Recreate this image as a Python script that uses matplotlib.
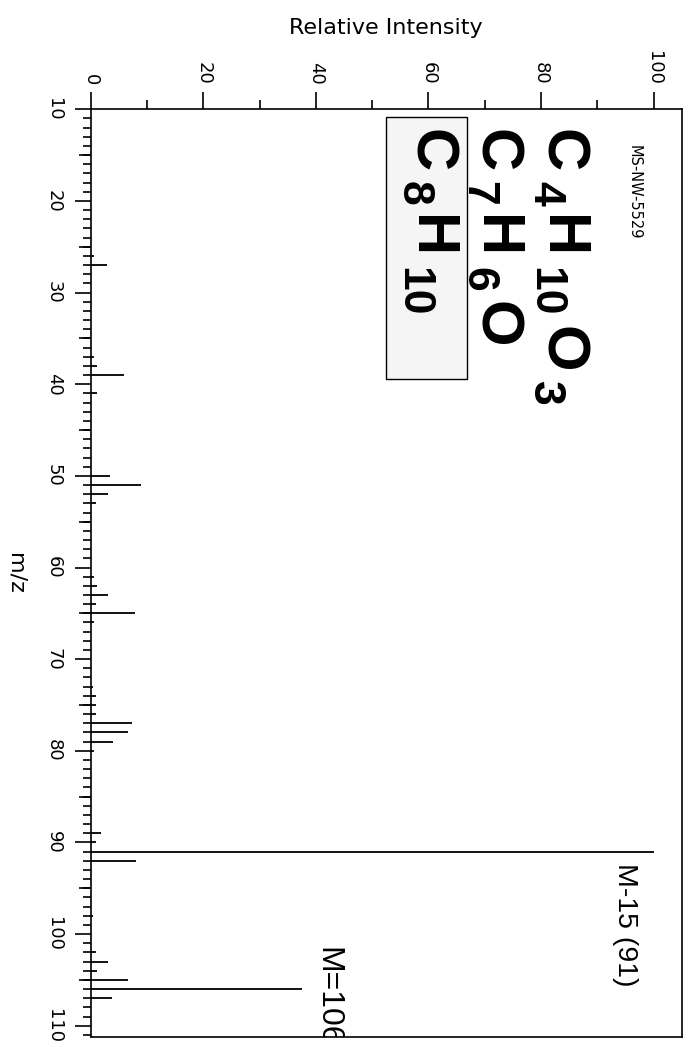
import re
import matplotlib
matplotlib.use("Agg")
import matplotlib.pyplot as plt
from matplotlib.ticker import MultipleLocator
from matplotlib.patches import Rectangle
from matplotlib.transforms import IdentityTransform

# ---- data ----
mz = [26, 27, 37, 38, 39, 41, 50, 51, 52, 53, 61, 62, 63, 64, 65, 66,
      73, 74, 75, 76, 77, 78, 79, 80, 89, 90, 91, 92, 98, 102, 103, 104,
      105, 106, 107]
intensity = [0.6, 2.9, 0.6, 1.2, 5.9, 1.2, 3.4, 8.9, 3.1, 0.9, 0.6, 1.2, 3.1, 0.9, 7.9, 0.6,
             0.4, 1.0, 0.9, 0.9, 7.3, 6.7, 3.9, 0.5, 1.8, 0.9, 100.0, 8.0, 0.4, 0.9, 3.1, 1.2,
             6.7, 37.5, 3.7]
mz_ticks = [10, 20, 30, 40, 50, 60, 70, 80, 90, 100, 110]
mz_mid_ticks = [15, 25, 35, 45, 55, 65, 75, 85, 95, 105]
int_ticks = [0, 20, 40, 60, 80, 100]
formulas = ["C4H10O3", "C7H6O", "C8H10"]
sample_id = "MS-NW-5529"
base_label = "M-15 (91)"
mol_label = "M=106"

plt.rcParams["font.family"] = ["DejaVu Sans"]

W, H = 692, 1047
fig = plt.figure(figsize=(W / 100, H / 100), dpi=100)
L, R, T, B = 90.7, 681.7, 109.3, 1036.7
ax = fig.add_axes([L / W, 1 - B / H, (R - L) / W, (B - T) / H])
ax.set_xlim(0, 105)
ax.set_ylim(111.2, 10)

ax.hlines(mz, 0, intensity, color="black", lw=1.3, zorder=3)

for s in ax.spines.values():
    s.set_linewidth(1.2)

# intensity axis on top
ax.xaxis.set_ticks_position("top")
ax.xaxis.set_label_position("top")
ax.set_xticks(int_ticks)
ax.xaxis.set_minor_locator(MultipleLocator(10))
ax.tick_params(axis="x", which="major", length=12, width=1.2, pad=5.5,
               labelsize=13, labelrotation=-90)
ax.tick_params(axis="x", which="minor", length=6.2, width=1.2)

# m/z axis on left
ax.set_yticks(mz_ticks)
ax.yaxis.set_minor_locator(MultipleLocator(1))
ax.tick_params(axis="y", which="major", length=11.5, width=1.2, pad=8.6,
               labelsize=13, labelrotation=-90)
ax.tick_params(axis="y", which="minor", length=5.8, width=1.2)
for lab in ax.get_yticklabels():
    lab.set_va("center")

sec = ax.secondary_yaxis("left")
sec.set_yticks(mz_mid_ticks)
sec.tick_params(axis="y", which="major", length=8.6, width=1.2, labelleft=False)
sec.spines["left"].set_visible(False)

fig.text(386 / W, 1 - 28 / H, "Relative Intensity", ha="center", va="center", fontsize=16)
fig.text(15 / W, 1 - 573 / H, "m/z", rotation=-90, ha="center", va="center", fontsize=16)

# formula annotations (rotated, laid out piece by piece)
ax.add_patch(Rectangle((52.5, 10.85), 14.3, 28.55, facecolor="#f5f5f5",
                       edgecolor="black", lw=1.0, zorder=1))
renderer = fig.canvas.get_renderer()


def draw_formula(formula, x_data, y_data, size=43, sub_size=32, drop=12.5, gap=9):
    x0, y0 = ax.transData.transform((x_data, y_data))
    y = y0
    for elem, num in re.findall(r"([A-Z][a-z]?)(\d*)", formula):
        for s, sub in ((elem, False), (num, True)):
            if not s:
                continue
            t = fig.text(x0 - (drop if sub else 0), y, s, transform=IdentityTransform(),
                         rotation=-90, rotation_mode="anchor", ha="left", va="baseline",
                         fontsize=sub_size if sub else size, fontweight="bold",
                         family="Liberation Sans", zorder=4)
            bb = t.get_window_extent(renderer)
            y -= bb.height + gap


for f, xb in zip(formulas, [80.8, 69.0, 57.4]):
    draw_formula(f, xb, 12.15)

ax.text(95.8, 13.9, sample_id, rotation=-90, rotation_mode="anchor", ha="left",
        va="baseline", fontsize=10.5, zorder=4)
ax.text(93.65, 92.2, base_label, rotation=-90, rotation_mode="anchor", ha="left",
        va="baseline", fontsize=20.5, family="Liberation Sans", zorder=4)
ax.text(40.7, 101.4, mol_label, rotation=-90, rotation_mode="anchor", ha="left",
        va="baseline", fontsize=23, family="Liberation Sans", zorder=4, clip_on=True)

fig.savefig("out.png", dpi=100)
